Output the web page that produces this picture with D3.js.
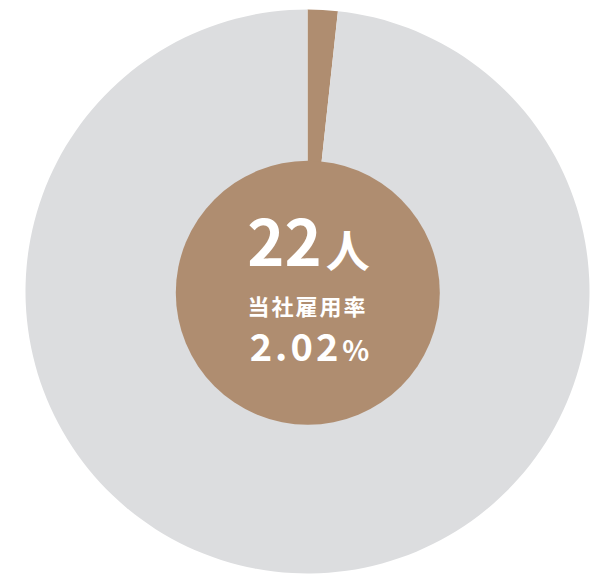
<!DOCTYPE html>
<html><head><meta charset="utf-8">
<script src="https://cdn.jsdelivr.net/npm/d3@7"></script>
<style>html,body{margin:0;padding:0;background:#fff;}svg{display:block;}</style>
</head><body>
<svg id="c" width="590" height="574"></svg>
<script>
// Data
const categories = ["当社雇用", "その他"];
const shares = [1.72, 98.28];       // visual share of the wedge
const headcount = 22;
const headcountUnit = "人";
const rateLabel = "当社雇用率";
const rateValue = "2.02";
const rateUnit = "%";
const colors = ["#af8d70", "#dcdddf"];

const svg = d3.select("#c");
const cx = 307.5, cy = 291.5, R = 282, r = 132;
const g = svg.append("g").attr("transform", `translate(${cx},${cy})`);

const pie = d3.pie().sort(null).value(d => d)(shares);
const arc = d3.arc().innerRadius(0).outerRadius(R);
const color = d3.scaleOrdinal().domain(categories).range(colors);

g.selectAll("path").data(pie).join("path")
  .attr("d", arc)
  .attr("fill", (d, i) => color(categories[i]));

g.append("circle").attr("cx", 0.3).attr("cy", 1.3).attr("r", r).attr("fill", colors[0]);

const font = "'Noto Sans CJK JP', 'Noto Sans', sans-serif";
const t1 = g.append("text").attr("x", 1).attr("y", -26)
  .attr("text-anchor", "middle").attr("fill", "#fff")
  .attr("font-family", font).attr("font-weight", 700);
t1.append("tspan").attr("font-size", 63).text(headcount);
t1.append("tspan").attr("font-size", 44).attr("dx", 4).attr("dy", 2).text(headcountUnit);

g.append("text").attr("x", 0).attr("y", 23)
  .attr("text-anchor", "middle").attr("fill", "#fff")
  .attr("font-family", font).attr("font-weight", 700)
  .attr("font-size", 22).attr("letter-spacing", 2).text(rateLabel);

const t3 = g.append("text").attr("x", 2).attr("y", 69.5)
  .attr("text-anchor", "middle").attr("fill", "#fff")
  .attr("font-family", font).attr("font-weight", 700);
t3.append("tspan").attr("font-size", 38).attr("letter-spacing", 3).text(rateValue);
t3.append("tspan").attr("font-size", 28).attr("dx", 1).text(rateUnit);
</script>
</body></html>
